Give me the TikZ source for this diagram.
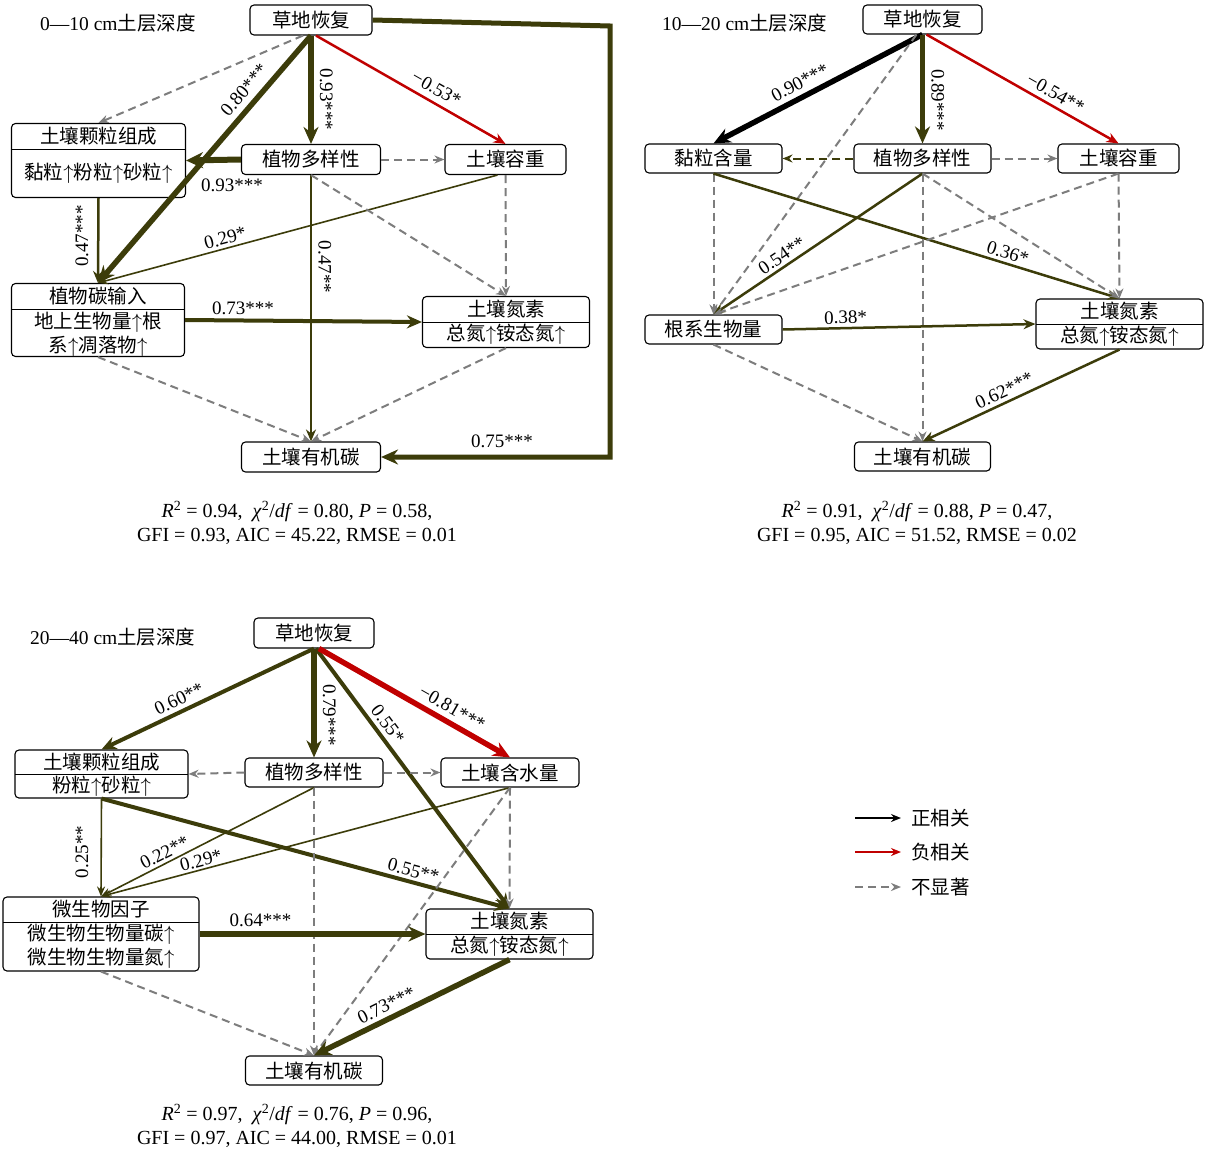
\documentclass[tikz,border=0pt]{standalone}
\usepackage{fontspec}
\setmainfont{Liberation Serif}
\newfontfamily\cjk{Noto Sans CJK SC}
\usetikzlibrary{arrows.meta}
\definecolor{ol}{RGB}{60,60,10}
\definecolor{rd}{RGB}{192,0,0}
\definecolor{gy}{RGB}{125,125,125}
\newcommand{\ua}{\ensuremath{\uparrow}}
\newcommand{\cjkf}{\cjk\fontsize{19.5}{22}\selectfont}
\newcommand{\cjkm}{\cjk\fontsize{19.5}{24}\selectfont}
\newcommand{\labf}{\fontsize{19}{22}\selectfont}
\newcommand{\statf}{\fontsize{20}{24}\selectfont}
\begin{document}
\begin{tikzpicture}[x=1pt,y=-1pt,
  box/.style={draw=black, line width=1.1pt, rounded corners=4pt, fill=white, inner sep=0pt, font=\cjkf},
  tx/.style={inner sep=0pt, font=\cjkf},
  txm/.style={inner sep=0pt, font=\cjkm, align=center},
  lab/.style={inner sep=1pt, font=\labf, text=black},
  el/.style={lab, sloped, above=#1},
  el/.default=2pt,
  po/.style={draw=ol},
  ng/.style={draw=rd},
  bl/.style={draw=black},
  ns/.style={draw=gy, line width=2pt, dash pattern=on 8pt off 5pt, -{Stealth[length=10pt,width=8pt]}},
  nso/.style={draw=ol, line width=2pt, dash pattern=on 8pt off 5pt, -{Stealth[length=10pt,width=8pt]}},
  wa/.style={line width=1.6pt, -{Stealth[length=10pt,width=8pt]}},
  wb/.style={line width=2.5pt, -{Stealth[length=12pt,width=10pt]}},
  wc/.style={line width=4pt, -{Stealth[length=15pt,width=13pt]}},
  wd/.style={line width=5.5pt, -{Stealth[length=17pt,width=15pt]}},
  div/.style={draw=black, line width=1pt},
  stat/.style={inner sep=0pt, font=\statf, align=center},
  ttl/.style={inner sep=0pt, anchor=west, font=\fontsize{19.5}{22}\selectfont}
]
\useasboundingbox[fill=white] (0,0) rectangle (1206,1151);

% ================= Panel 1 =================
\node[ttl] (t1) at (40,23) {0—10 cm{\cjkf 土层深度}};
\node[box, minimum width=122pt, minimum height=30pt] (p1g) at (311,20) {草地恢复};
\node[box, minimum width=174pt, minimum height=74pt] (p1soil) at (98.5,160.5) {};
\draw[div] (11.5,149) -- (185.5,149);
\node[tx] (p1soilh) at (98.5,136.5) {土壤颗粒组成};
\node[tx] (p1soilb) at (98.5,173) {黏粒\ua 粉粒\ua 砂粒\ua};
\node[box, minimum width=139pt, minimum height=30pt] (p1div) at (311,159.5) {植物多样性};
\node[box, minimum width=121pt, minimum height=30pt] (p1bd) at (505.5,159.5) {土壤容重};
\node[box, minimum width=173pt, minimum height=73pt] (p1cin) at (98,320) {};
\draw[div] (11.5,309) -- (184.5,309);
\node[tx] (p1cinh) at (98,296.5) {植物碳输入};
\node[txm] (p1cinb) at (98,334) {地上生物量\ua 根\\系\ua 凋落物\ua};
\node[box, minimum width=167pt, minimum height=51pt] (p1n) at (506,322) {};
\draw[div] (422.5,322) -- (589.5,322);
\node[tx] (p1nh) at (506,309.5) {土壤氮素};
\node[tx] (p1nb) at (506,334.5) {总氮\ua 铵态氮\ua};
\node[box, minimum width=139pt, minimum height=30pt] (p1soc) at (311,457) {土壤有机碳};

\draw[ns] ([xshift=-8pt]p1g.south) -- (p1soil.north);
\draw[po,wd] (p1g.south) -- node[el=5pt,pos=0.26]{0.80***} (p1cin.north);
\draw[po,wd] (p1g.south) -- node[el=5pt,pos=0.59]{0.93***} (p1div.north);
\draw[ng,wb] ([xshift=5pt]p1g.south) -- node[el=5pt,pos=0.6]{−0.53*} (p1bd.north);
\coordinate (p1r1) at (610,26);
\coordinate (p1r2) at (610,457);
\draw[po,line width=5pt,line join=miter,-{Stealth[length=17pt,width=15pt]}] (p1g.east) -- (p1r1) -- (p1r2) -- (p1soc.east);
\node[lab] (p1l75) at (502,441) {0.75***};
\draw[po,line width=6pt,-{Stealth[length=17pt,width=16pt]}] (p1div.west) -- (p1soil.east);
\node[lab] (p1l93) at (232,185) {0.93***};
\draw[ns] (p1div.east) -- (p1bd.west);
\draw[po,wb] (p1soil.south) -- (p1cin.north);
\node[lab,rotate=90] (p1l47) at (82,236) {0.47***};
\draw[po,wa] ([xshift=-8pt]p1bd.south) -- node[el=2pt,pos=0.675]{0.29*} (p1cin.north);
\draw[po,wb] (p1div.south) -- node[el=5pt,pos=0.345]{0.47**} (p1soc.north);
\draw[ns] (p1div.south) -- (p1n.north);
\draw[ns] (p1bd.south) -- (p1n.north);
\draw[po,wc] (p1cin.east) -- node[lab,above=3pt,pos=0.245]{0.73***} (p1n.west);
\draw[ns] (p1cin.south) -- (p1soc.north);
\draw[ns] (p1n.south) -- (p1soc.north);

\node[stat] (p1stat) at (297,523) {\textit{R}\textsuperscript{2} = 0.94,\ \ \textit{χ}\textsuperscript{2}/\textit{df} = 0.80, \textit{P} = 0.58,\\GFI = 0.93, AIC = 45.22, RMSE = 0.01};

% ================= Panel 2 =================
\node[ttl] (t2) at (662,23) {10—20 cm{\cjkf 土层深度}};
\node[box, minimum width=119pt, minimum height=29pt] (p2g) at (922.5,19.5) {草地恢复};
\node[box, minimum width=137pt, minimum height=29pt] (p2clay) at (713.5,158.5) {黏粒含量};
\node[box, minimum width=137pt, minimum height=29pt] (p2div) at (922.5,158.5) {植物多样性};
\node[box, minimum width=121pt, minimum height=29pt] (p2bd) at (1118.5,158.5) {土壤容重};
\node[box, minimum width=137pt, minimum height=29pt] (p2root) at (713.5,329.5) {根系生物量};
\node[box, minimum width=167pt, minimum height=50pt] (p2n) at (1119.5,324) {};
\draw[div] (1036,324) -- (1203,324);
\node[tx] (p2nh) at (1119.5,311.5) {土壤氮素};
\node[tx] (p2nb) at (1119.5,336.5) {总氮\ua 铵态氮\ua};
\node[box, minimum width=136pt, minimum height=29pt] (p2soc) at (922.5,456.5) {土壤有机碳};

\draw[bl,wd] (p2g.south) -- node[el=4pt,pos=0.555]{0.90***} (p2clay.north);
\draw[po,wd] (p2g.south) -- node[el=5pt,pos=0.6]{0.89***} (p2div.north);
\draw[ng,wb] ([xshift=4pt]p2g.south) -- node[el=4pt,pos=0.64]{−0.54**} (p2bd.north);
\draw[ns] ([xshift=-6pt]p2g.south) -- (p2root.north);
\draw[nso] (p2div.west) -- (p2clay.east);
\draw[ns] (p2div.east) -- (p2bd.west);
\draw[ns] (p2clay.south) -- (p2root.north);
\draw[po,wb] (p2clay.south) -- node[el=2pt,pos=0.717]{0.36*} (p2n.north);
\draw[po,wb] (p2div.south) -- node[el=2pt,pos=0.644]{0.54**} (p2root.north);
\draw[ns] (p2bd.south) -- (p2root.north);
\draw[ns] (p2div.south) -- (p2n.north);
\draw[ns] (p2bd.south) -- (p2n.north);
\draw[ns] (p2div.south) -- (p2soc.north);
\draw[po,wb] (p2root.east) -- node[el=2pt,pos=0.25]{0.38*} (p2n.west);
\draw[ns] (p2root.south) -- (p2soc.north);
\draw[po,wb] (p2n.south) -- node[el=3pt,pos=0.56]{0.62***} (p2soc.north);

\node[stat] (p2stat) at (917,523) {\textit{R}\textsuperscript{2} = 0.91,\ \ \textit{χ}\textsuperscript{2}/\textit{df} = 0.88, \textit{P} = 0.47,\\GFI = 0.95, AIC = 51.52, RMSE = 0.02};

% ================= Panel 3 =================
\node[ttl] (t3) at (30,637) {20—40 cm{\cjkf 土层深度}};
\node[box, minimum width=120pt, minimum height=30pt] (p3g) at (314,633) {草地恢复};
\node[box, minimum width=173pt, minimum height=48pt] (p3soil) at (101.5,774) {};
\draw[div] (15,774) -- (188,774);
\node[tx] (p3soilh) at (101.5,762) {土壤颗粒组成};
\node[tx] (p3soilb) at (101.5,786.5) {粉粒\ua 砂粒\ua};
\node[box, minimum width=138pt, minimum height=29pt] (p3div) at (314,772.5) {植物多样性};
\node[box, minimum width=138pt, minimum height=29pt] (p3wc) at (510,772.5) {土壤含水量};
\node[box, minimum width=196pt, minimum height=74pt] (p3mic) at (101,934) {};
\draw[div] (3,922) -- (199,922);
\node[tx] (p3mich) at (101,909.5) {微生物因子};
\node[txm] (p3micb) at (101,946.5) {微生物生物量碳\ua\\微生物生物量氮\ua};
\node[box, minimum width=167pt, minimum height=50pt] (p3n) at (509.5,934) {};
\draw[div] (426,934) -- (593,934);
\node[tx] (p3nh) at (509.5,921.5) {土壤氮素};
\node[tx] (p3nb) at (509.5,946.5) {总氮\ua 铵态氮\ua};
\node[box, minimum width=137pt, minimum height=29pt] (p3soc) at (314,1070.5) {土壤有机碳};

\draw[po,wc] (p3g.south) -- node[el=3pt,pos=0.61]{0.60**} (p3soil.north);
\draw[po,wd] (p3g.south) -- node[el=5pt,pos=0.61]{0.79***} (p3div.north);
\draw[po,wc] ([xshift=2pt]p3g.south) -- node[el=3pt,pos=0.32]{0.55*} (p3n.north);
\draw[ng,wd] ([xshift=5pt]p3g.south) -- node[el=4pt,pos=0.66]{−0.81***} (p3wc.north);
\draw[ns] (p3div.west) -- (p3soil.east);
\draw[ns] (p3div.east) -- (p3wc.west);
\draw[po,wa] (p3soil.south) -- (p3mic.north);
\node[lab,rotate=90] (p3l25) at (82,852) {0.25**};
\draw[po,wa] (p3div.south) -- node[el=2pt,pos=0.68]{0.22**} (p3mic.north);
\draw[po,wa] (p3wc.south) -- node[el=1pt,pos=0.75]{0.29*} (p3mic.north);
\draw[po,wc] (p3soil.south) -- node[el=2pt,pos=0.757]{0.55**} (p3n.north);
\draw[ns] (p3div.south) -- (p3soc.north);
\draw[ns] (p3wc.south) -- (p3n.north);
\draw[ns] (p3wc.south) -- (p3soc.north);
\draw[po,wd] (p3mic.east) -- node[lab,above=3pt,pos=0.27]{0.64***} (p3n.west);
\draw[ns] (p3mic.south) -- (p3soc.north);
\draw[po,wd] (p3n.south) -- node[el=3pt,pos=0.6]{0.73***} (p3soc.north);

\node[stat] (p3stat) at (297,1126) {\textit{R}\textsuperscript{2} = 0.97,\ \ \textit{χ}\textsuperscript{2}/\textit{df} = 0.76, \textit{P} = 0.96,\\GFI = 0.97, AIC = 44.00, RMSE = 0.01};

% ================= Legend =================
\coordinate (lg1a) at (855,818); \coordinate (lg1b) at (901,818);
\coordinate (lg2a) at (855,852); \coordinate (lg2b) at (901,852);
\coordinate (lg3a) at (855,887); \coordinate (lg3b) at (901,887);
\draw[bl,line width=1.6pt,-{Stealth[length=10pt,width=8pt]}] (lg1a) -- (lg1b);
\draw[ng,line width=1.6pt,-{Stealth[length=10pt,width=8pt]}] (lg2a) -- (lg2b);
\draw[ns] (lg3a) -- (lg3b);
\node[tx,anchor=west] (lg1t) at (911,818) {正相关};
\node[tx,anchor=west] (lg2t) at (911,852) {负相关};
\node[tx,anchor=west] (lg3t) at (911,887) {不显著};
\end{tikzpicture}
\end{document}
